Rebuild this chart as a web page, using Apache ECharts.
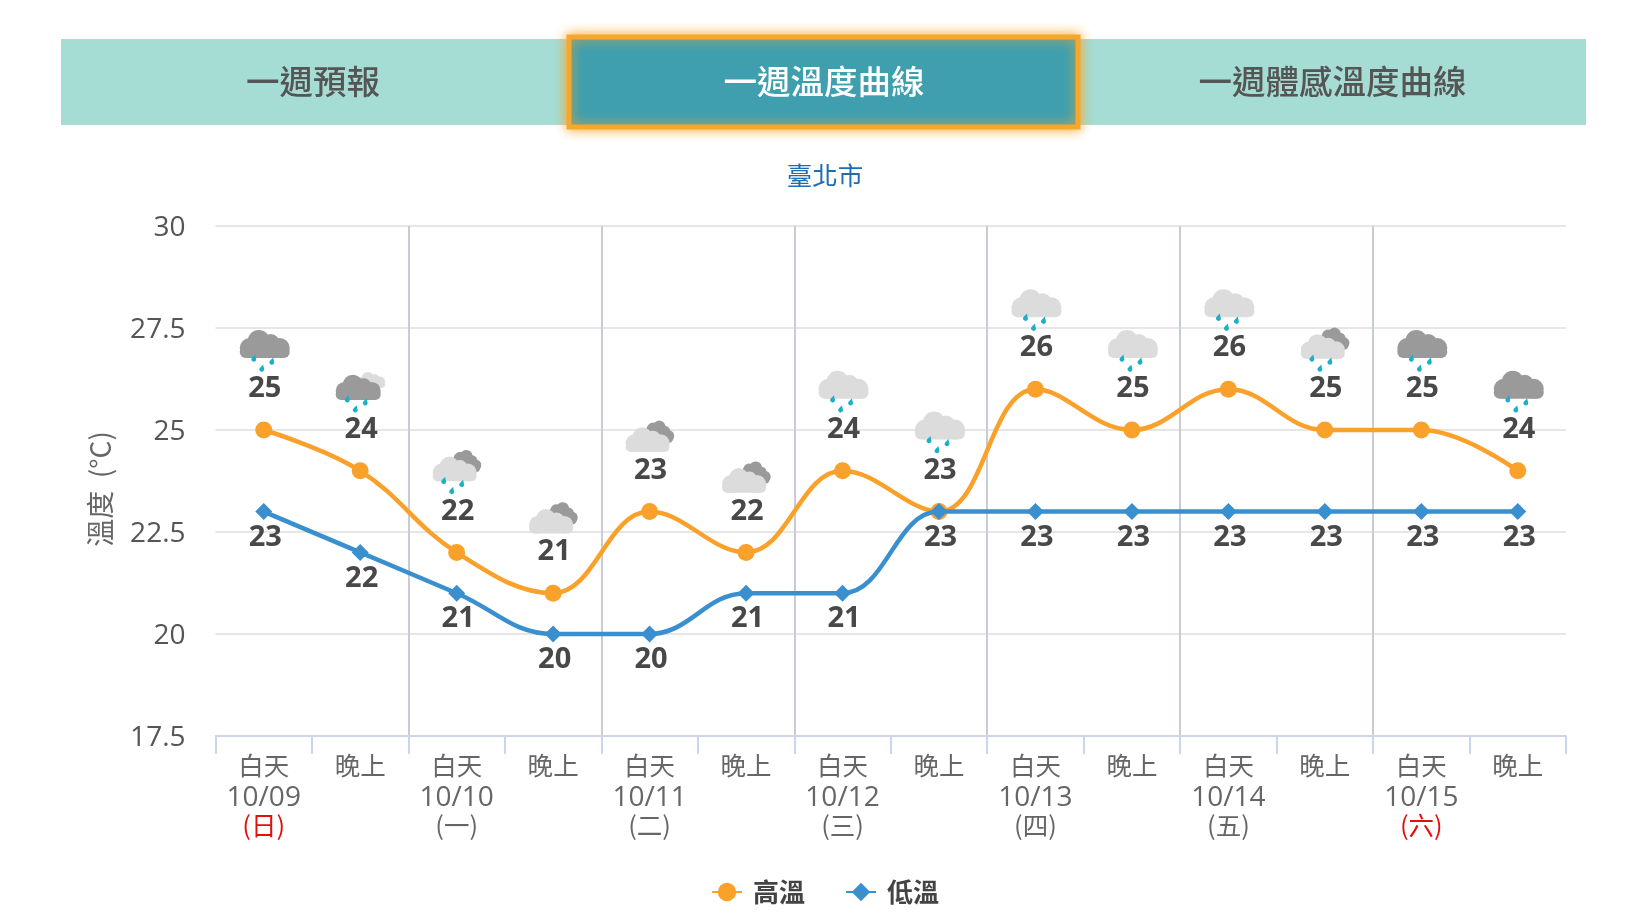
<!DOCTYPE html>
<html><head><meta charset="utf-8">
<style>html,body{margin:0;padding:0;background:#fff}#c{width:1630px;height:916px}</style>
<script src="https://cdn.jsdelivr.net/npm/echarts@6/dist/echarts.min.js"></script>
</head><body><div id="c"></div>
<script>
const periods=['白天','晚上','白天','晚上','白天','晚上','白天','晚上','白天','晚上','白天','晚上','白天','晚上'];
const dates=['10/09','','10/10','','10/11','','10/12','','10/13','','10/14','','10/15',''];
const weekdays=['日','','一','','二','','三','','四','','五','','六',''];
const highTemps=[25,24,22,21,23,22,24,23,26,25,26,25,25,24];
const lowTemps=[23,22,21,20,20,21,21,23,23,23,23,23,23,23];
const iconKinds=['dark','darkOverLight','lightOverDark','lightOverDarkDry','lightOverDarkDry','lightOverDarkDry','light','light','light','light','light','lightOverDark','dark','dark'];
const tabs=['一週預報','一週溫度曲線','一週體感溫度曲線'];

const FONT='"Open Sans","Noto Sans CJK TC",sans-serif';
const CJK='"Noto Sans CJK TC","Open Sans",sans-serif';
const DARK='#9a9a9a', LIGHT='#dcdcdc', DROP='#1cb0c8';

function cloudParts(s,fill){
  const c=(x,y,r)=>({type:'circle',shape:{cx:x*s,cy:y*s,r:r*s},style:{fill}});
  return [
    c(-15,4,10),c(15,4,10),c(-6,-3,11),c(6,-1,9),
    {type:'rect',shape:{x:-25*s,y:2*s,width:50*s,height:12*s,r:6*s},style:{fill}}
  ];
}
function cloud(cx,cy,s,fill,rot){
  return {type:'group',x:cx,y:cy,rotation:rot||0,children:cloudParts(s,fill)};
}
function drops(cx,cy){
  const d=(x,y)=>({type:'path',shape:{pathData:'M1.5 -4.5C1.5 -2 2.8 -0.5 2.5 1.5A2.8 2.8 0 0 1 -2.8 1C-2.8 -1 0 -2.5 1.5 -4.5Z',x:cx+x-2.5,y:cy+y-4,width:5,height:8},style:{fill:DROP}});
  return [d(-11,14),d(7,17),d(-3,24)];
}
function renderIcon(params,api){
  const i=params.dataIndex;
  const p=api.coord([api.value(0),api.value(1)]);
  const cx=p[0]+1, cy=p[1]-86;
  const kind=iconKinds[i];
  let kids=[];
  if(kind==='dark') kids=[cloud(cx,cy,1,DARK),...drops(cx,cy)];
  else if(kind==='light') kids=[cloud(cx,cy,1,LIGHT),...drops(cx,cy)];
  else if(kind==='darkOverLight') kids=[cloud(cx+10,cy-5,.56,LIGHT),cloud(cx-3,cy+2.5,.9,DARK),...drops(cx-3,cy)];
  else if(kind==='lightOverDark') kids=[cloud(cx+11,cy-7,.58,DARK,-0.45),cloud(cx-3,cy+2.5,.88,LIGHT),...drops(cx-3,cy)];
  else kids=[cloud(cx+11,cy+4.5,.58,DARK,-0.45),cloud(cx-3,cy+14,.88,LIGHT)];
  return {type:'group',children:kids};
}

const tabX=[57,569,1079,1586];
const tabGraphics=[
  {type:'rect',silent:true,z:1,shape:{x:61,y:39,width:1525,height:86},style:{fill:'#a5dcd4'}},
  {type:'rect',silent:true,z:2,shape:{x:569,y:37,width:509,height:90},
   style:{fill:'#3f9fae',stroke:'#f9a72b',lineWidth:5,shadowBlur:12,shadowColor:'rgba(249,167,43,.9)'}},
  ...tabs.map((t,i)=>({type:'text',silent:true,z:3,x:(tabX[i]+tabX[i+1])/2,y:81,
    style:{text:t,fill:i===1?'#ffffff':'#555555',font:'500 33.5px '+CJK,align:'center',verticalAlign:'middle'}}))
];

const chart=echarts.init(document.getElementById('c'),null,{renderer:'canvas'});
chart.setOption({
  animation:false,
  backgroundColor:'#fff',
  textStyle:{fontFamily:FONT},
  graphic:tabGraphics,
  title:{text:'臺北市',left:820,top:158,textAlign:'center',
    textStyle:{color:'#1f6cb0',fontSize:25.5,fontWeight:'normal',fontFamily:CJK}},
  legend:{left:706,top:874,itemGap:40,itemWidth:30,itemHeight:23,
    data:['高溫','低溫'],
    textStyle:{color:'#444',fontSize:26,fontWeight:'bold',fontFamily:CJK,padding:[0,0,0,6]}},
  grid:{left:215.5,right:64,top:226,height:510,containLabel:false},
  xAxis:{type:'category',data:periods.map((p,i)=>i),boundaryGap:true,
    axisLine:{lineStyle:{color:'#ccd6eb',width:2}},
    axisTick:{show:true,length:18,alignWithLabel:false,interval:0,lineStyle:{color:'#ccd6eb',width:2}},
    splitLine:{show:true,interval:(i)=>i%2===0&&i>0&&i<14,showMaxLine:false,lineStyle:{color:'#c8ccd4',width:2}},
    axisLabel:{interval:0,margin:14,lineHeight:30,color:'#666',fontFamily:CJK,fontSize:25,
      formatter:(v)=>{const i=+v;
        if(!dates[i]) return '{p|'+periods[i]+'}';
        const wk=(weekdays[i]==='日'||weekdays[i]==='六')?'w':'n';
        return '{p|'+periods[i]+'}\n{d|'+dates[i]+'}\n{'+wk+'|('+weekdays[i]+')}';},
      rich:{p:{fontSize:25.5,lineHeight:30,color:'#666',fontFamily:CJK},
            d:{fontSize:28,lineHeight:36,color:'#666',fontFamily:FONT},
            n:{fontSize:25.5,lineHeight:18,color:'#666',fontFamily:CJK},
            w:{fontSize:25.5,lineHeight:18,color:'#e0100c',fontFamily:CJK}}}},
  yAxis:{type:'value',min:17.5,max:30,interval:2.5,
    name:'溫度  (°C)',nameLocation:'middle',nameGap:101,nameRotate:90,
    nameTextStyle:{color:'#666',fontSize:28,fontFamily:CJK,padding:[0,16,0,0]},
    axisLine:{show:false},axisTick:{show:false},
    axisLabel:{margin:30,formatter:(v)=>'{a|'+v+'}',
      rich:{a:{color:'#555',fontSize:28,fontFamily:FONT,padding:[5,0,0,0]}}},
    splitLine:{lineStyle:{color:'#e6e6e6',width:2}}},
  series:[
    {name:'高溫',type:'line',data:highTemps,smooth:0.4,symbol:'circle',symbolSize:17,z:4,
     lineStyle:{color:'#f9a12a',width:4.5},itemStyle:{color:'#f9a12a'},
     label:{show:true,position:'top',distance:18,offset:[1,0],color:'#484848',fontSize:29,fontWeight:'bold',fontFamily:FONT}},
    {name:'低溫',type:'line',data:lowTemps,smooth:0.4,symbol:'diamond',symbolSize:17,z:5,
     lineStyle:{color:'#3a8fcf',width:4.5},itemStyle:{color:'#3a8fcf'},
     label:{show:true,position:'bottom',distance:3,offset:[1.5,0],color:'#484848',fontSize:29,fontWeight:'bold',fontFamily:FONT}},
    {name:'icons',type:'custom',renderItem:renderIcon,z:3,silent:true,clip:false,
     data:highTemps.map((v,i)=>[i,v]),encode:{x:0,y:1}}
  ]
});
</script></body></html>
